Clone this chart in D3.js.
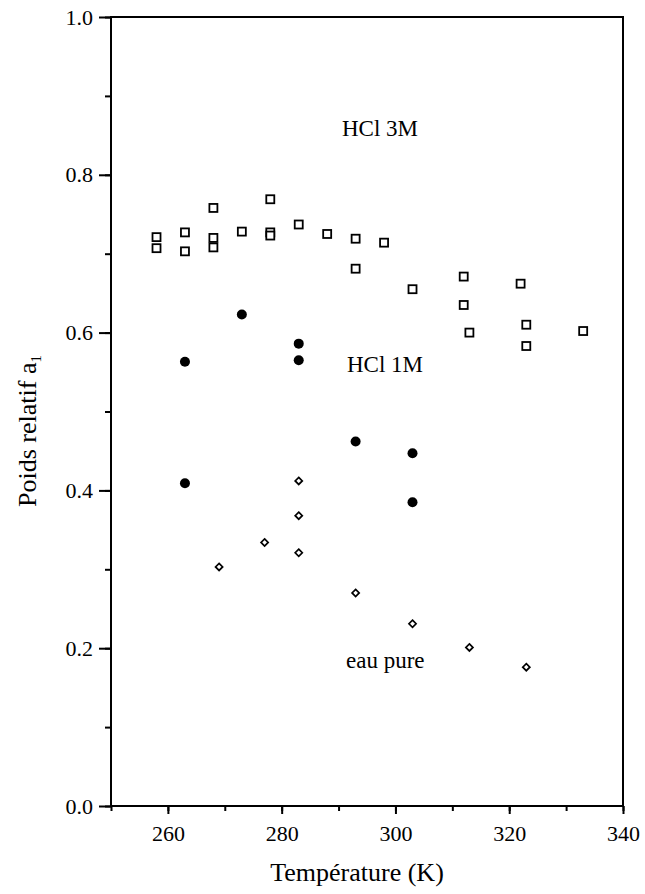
<!DOCTYPE html>
<html><head><meta charset="utf-8">
<script src="https://cdn.jsdelivr.net/npm/d3@7"></script>
<style>body{margin:0;background:#fff}svg{display:block}text{font-family:"Liberation Serif","Times New Roman",serif;fill:#000}</style>
</head><body>
<script>
const tempHCl3M = [258,258,263,263,268,268,268,273,278,278,278,283,288,293,293,298,303,312,312,313,322,323,323,333];
const poidsHCl3M = [0.721,0.707,0.727,0.703,0.758,0.720,0.708,0.728,0.769,0.727,0.723,0.737,0.725,0.719,0.681,0.714,0.655,0.671,0.635,0.600,0.662,0.610,0.583,0.602];
const tempHCl1M = [263,263,273,283,283,293,303,303];
const poidsHCl1M = [0.563,0.409,0.623,0.586,0.565,0.462,0.447,0.385];
const tempEau = [269,277,283,283,283,293,303,313,323];
const poidsEau = [0.303,0.334,0.412,0.368,0.321,0.270,0.231,0.201,0.176];
const xTicks = [260,280,300,320,340];
const yTicks = [0.0,0.2,0.4,0.6,0.8,1.0];

const W=645,H=894,m={l:111,r:22,t:17,b:88};
const svg=d3.select("body").append("svg").attr("width",W).attr("height",H);
const x=d3.scaleLinear().domain([250,340]).range([m.l,W-m.r]);
const y=d3.scaleLinear().domain([0,1]).range([H-m.b,m.t]);
const fs=22;

// frame
svg.append("rect").attr("x",x(250)).attr("y",y(1)).attr("width",x(340)-x(250)).attr("height",y(0)-y(1))
  .attr("fill","none").attr("stroke","#000").attr("stroke-width",2);

// x axis
const gx=svg.append("g").attr("transform",`translate(0,${y(0)})`);
gx.call(d3.axisBottom(x).tickValues(d3.range(250,341,10)).tickSize(5).tickFormat(""));
gx.select(".domain").remove();
const gx2=svg.append("g").attr("transform",`translate(0,${y(0)})`);
gx2.call(d3.axisBottom(x).tickValues(xTicks).tickSize(8).tickPadding(11).tickFormat(d3.format("d")));
gx2.select(".domain").remove();

// y axis
const gy=svg.append("g").attr("transform",`translate(${x(250)},0)`);
gy.call(d3.axisLeft(y).tickValues(d3.range(0,1.01,0.1)).tickSize(6).tickFormat(""));
gy.select(".domain").remove();
const gy2=svg.append("g").attr("transform",`translate(${x(250)},0)`);
gy2.call(d3.axisLeft(y).tickValues(yTicks).tickSize(12).tickPadding(6).tickFormat(d3.format(".1f")));
gy2.select(".domain").remove();
svg.selectAll(".tick line").attr("stroke-width",2);
svg.selectAll(".tick text").attr("font-size",fs).attr("font-family","Liberation Serif").attr("fill","#000");

// data
const sq=8;
svg.append("g").selectAll("rect").data(tempHCl3M.map((t,i)=>[t,poidsHCl3M[i]])).join("rect")
  .attr("x",d=>x(d[0])-sq/2).attr("y",d=>y(d[1])-sq/2).attr("width",sq).attr("height",sq)
  .attr("fill","#fff").attr("stroke","#000").attr("stroke-width",1.8);
svg.append("g").selectAll("circle").data(tempHCl1M.map((t,i)=>[t,poidsHCl1M[i]])).join("circle")
  .attr("cx",d=>x(d[0])).attr("cy",d=>y(d[1])).attr("r",5).attr("fill","#000");
const dia=d3.symbol().type(d3.symbolDiamond2).size(32);
svg.append("g").selectAll("path").data(tempEau.map((t,i)=>[t,poidsEau[i]])).join("path")
  .attr("d",dia).attr("transform",d=>`translate(${x(d[0])},${y(d[1])})`)
  .attr("fill","#fff").attr("stroke","#000").attr("stroke-width",1.7);

// labels
const ls=23;
svg.append("text").attr("x",342).attr("y",136).attr("font-size",ls).text("HCl 3M");
svg.append("text").attr("x",347).attr("y",372).attr("font-size",ls).text("HCl 1M");
svg.append("text").attr("x",346).attr("y",668).attr("font-size",ls).text("eau pure");

svg.append("text").attr("x",357).attr("y",881).attr("text-anchor","middle").attr("font-size",26).text("Température (K)");
const yl=svg.append("text").attr("transform",`translate(36,431) rotate(-90)`).attr("text-anchor","middle").attr("font-size",26);
yl.append("tspan").text("Poids relatif a");
yl.append("tspan").attr("font-size",15).attr("dy",5).text("1");
</script>
</body></html>
